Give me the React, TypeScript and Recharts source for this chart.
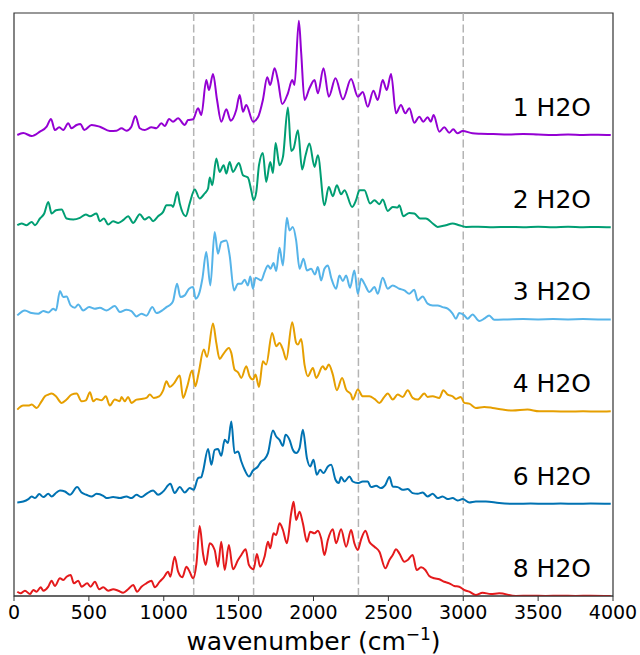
import React from "react";
import {
  LineChart,
  Line,
  XAxis,
  YAxis,
  ReferenceLine,
  ReferenceArea,
  ReferenceDot,
} from "recharts";

type Pt = [number, number];

// spectra: [wavenumber, intensity above own baseline]
const h2o1: Pt[] = [
  [22, 0], [62, 2], [118, -1], [173, 3.3], [218, 8.3], [247, 16], [273, 5], [302, 7.7], [329, 5],
  [362, 11.7], [384, 6.7], [418, 10], [444, 11], [469, 5], [518, 10], [573, 8.3], [640, 4],
  [684, 4.3], [718, 6.7], [751, 4.3], [784, 8.3], [811, 19], [840, 6.7], [873, 5], [918, 7.7],
  [951, 6.7], [984, 11.7], [1007, 9], [1036, 16], [1062, 13.3], [1096, 16.7], [1140, 10],
  [1162, 15], [1196, 15.7], [1229, 26.7], [1251, 20], [1284, 55], [1302, 45], [1329, 61],
  [1356, 35], [1384, 13.3], [1418, 25.7], [1447, 14.3], [1484, 25], [1507, 40], [1529, 23.3],
  [1551, 30], [1596, 13.3], [1629, 17.7], [1662, 35], [1691, 57.7], [1711, 50], [1740, 66.7],
  [1762, 55], [1791, 31], [1829, 41.7], [1858, 55], [1873, 50], [1902, 114.3], [1918, 81.7],
  [1940, 35], [1973, 46.7], [2007, 55], [2029, 41.7], [2067, 66.7], [2102, 38.3], [2147, 56.7],
  [2196, 35.7], [2251, 56], [2296, 38.3], [2329, 43], [2362, 28.3], [2400, 44.3], [2429, 35],
  [2462, 55], [2489, 45], [2518, 61], [2551, 21.7], [2584, 30], [2613, 21.7], [2640, 26.7],
  [2673, 12.3], [2707, 18.3], [2733, 13.3], [2762, 17.7], [2784, 13.3], [2802, 20], [2840, 3.3],
  [2873, 7.7], [2907, 2.3], [2933, 5.7], [2962, 1.7], [2996, 4], [3062, 1.7], [3118, 1.3],
  [3200, 1], [3300, 0.5], [3400, 1], [3500, 0.5], [3600, 0], [3700, 0.5], [3800, 0], [3900, 0.3],
  [3985, 0],
];

const h2o2: Pt[] = [
  [22, 2], [51, 3.7], [84, 2], [118, 5.3], [140, 2], [173, 8.7], [202, 13.7], [229, 25.3],
  [251, 13.7], [280, 17], [318, 17.7], [351, 8.7], [396, 7.7], [440, 9.3], [480, 12.7], [507, 11],
  [551, 13.7], [573, 6], [600, 8.7], [629, 2.7], [662, 6], [696, 4.3], [729, 7], [762, 11],
  [796, 4.3], [840, 13], [873, 7.7], [902, 10.3], [929, 6], [962, 11], [996, 15.3], [1018, 22],
  [1051, 22], [1062, 20.3], [1091, 35.3], [1107, 23.7], [1147, 11], [1173, 23.7], [1207, 37.7],
  [1240, 28.7], [1273, 33.7], [1296, 38.7], [1307, 49.7], [1324, 42], [1351, 68.7], [1373, 55.3],
  [1400, 62], [1418, 53.7], [1440, 65.3], [1462, 55.3], [1502, 64.3], [1529, 52], [1562, 49.7],
  [1584, 37], [1600, 27], [1618, 35.3], [1636, 62], [1662, 74.3], [1684, 45.3], [1711, 65.3],
  [1729, 54.3], [1747, 84.3], [1773, 62], [1796, 70.3], [1829, 119.7], [1851, 76.3], [1867, 78.7],
  [1896, 97], [1924, 57.7], [1947, 72], [1973, 83.7], [2007, 60.3], [2029, 72], [2073, 22],
  [2102, 40.3], [2129, 31], [2156, 42], [2184, 33], [2207, 37], [2258, 20.3], [2284, 27],
  [2307, 37], [2340, 37], [2378, 23.7], [2407, 27], [2440, 23], [2462, 27.7], [2496, 16.3],
  [2529, 20.3], [2562, 19.7], [2573, 22], [2600, 11], [2640, 14.3], [2673, 13.7], [2711, 8.7],
  [2751, 8.7], [2796, 3.7], [2829, 0.3], [2884, 2], [2929, 3.7], [2973, 2], [3018, 0.3],
  [3100, 0.5], [3200, 0], [3300, 0.3], [3400, 0], [3500, 0.5], [3600, 0], [3700, 0.5],
  [3800, 0], [3900, 0.3], [3985, 0],
];

const h2o3: Pt[] = [
  [22, 4], [73, 9], [118, 6.3], [162, 5.7], [196, 8.3], [229, 7], [262, 10.7], [280, 9],
  [307, 28.3], [329, 22.3], [351, 23], [378, 14], [407, 11.7], [429, 15], [462, 9], [502, 12.3],
  [540, 10.7], [573, 11.7], [618, 9], [673, 13.3], [707, 7.3], [751, 9.7], [784, 8.3], [818, 3],
  [851, 5.7], [884, 3.7], [924, 12.3], [951, 6.3], [996, 9.7], [1018, 12.3], [1051, 15.7],
  [1062, 18.3], [1089, 35.7], [1111, 22.3], [1140, 24], [1169, 30.7], [1196, 32.3], [1213, 20.7],
  [1236, 25.7], [1258, 40.7], [1284, 67.3], [1311, 34], [1340, 87.3], [1362, 65.7], [1384, 77.3],
  [1418, 79], [1440, 64], [1469, 29], [1496, 35.7], [1518, 35.7], [1540, 39.7], [1562, 34],
  [1578, 43], [1596, 30.7], [1613, 41.7], [1651, 39], [1673, 47.3], [1696, 54], [1713, 50.7],
  [1733, 56.3], [1751, 48.3], [1773, 71.7], [1796, 54], [1822, 101.7], [1840, 89], [1862, 92.3],
  [1884, 79], [1907, 50.7], [1933, 60.7], [1956, 49], [1984, 50.7], [2010, 45], [2029, 52.3],
  [2051, 39], [2073, 50.7], [2096, 54], [2118, 41.7], [2151, 30.7], [2173, 44], [2196, 38.3],
  [2218, 44], [2244, 31.7], [2273, 49], [2296, 25.7], [2318, 40.7], [2340, 35.7], [2373, 27.3],
  [2407, 32.3], [2429, 25.7], [2462, 41.7], [2496, 30.7], [2529, 34], [2573, 30.7], [2607, 29],
  [2640, 25.7], [2673, 29.7], [2696, 19], [2729, 23], [2762, 15.7], [2796, 14], [2829, 14],
  [2862, 12.3], [2896, 10.7], [2929, 5.7], [2951, 0.7], [2973, 6.3], [3007, 4], [3029, 0.7],
  [3062, 5], [3107, -1.7], [3140, 0.7], [3173, 4], [3207, -0.3], [3300, 0], [3400, 0.3],
  [3500, 0], [3600, 0.3], [3700, 0], [3800, 0.3], [3900, 0], [3985, 0],
];

const h2o4: Pt[] = [
  [22, 2], [62, 6], [96, 6], [118, 7], [151, 3.7], [184, 10.3], [207, 15.3], [229, 17], [251, 18],
  [280, 15.3], [318, 8.7], [351, 12], [384, 17], [418, 18], [451, 10.3], [480, 11.3], [507, 19.3],
  [529, 10.3], [551, 12.7], [584, 11.3], [613, 15.3], [640, 6], [673, 12], [707, 10.3],
  [718, 14.7], [740, 10.3], [762, 14.7], [784, 8.7], [818, 12], [851, 12.7], [884, 13.7],
  [907, 17], [933, 13.7], [969, 15.3], [996, 21.3], [1018, 30.3], [1040, 24.7], [1067, 28],
  [1107, 36], [1129, 13.7], [1156, 24.7], [1189, 41], [1211, 25.3], [1233, 38.7], [1267, 62],
  [1289, 54.7], [1329, 88], [1351, 68.7], [1373, 52.7], [1400, 58], [1435, 63.7], [1451, 58.7],
  [1473, 42], [1496, 39.3], [1518, 33.7], [1551, 45.3], [1573, 35.3], [1596, 32], [1613, 37],
  [1636, 24.7], [1662, 50.3], [1684, 47], [1724, 78.7], [1751, 65.3], [1773, 68.7], [1796, 62],
  [1818, 52], [1858, 89.3], [1884, 68.7], [1896, 67], [1918, 72.7], [1940, 47], [1962, 35.3],
  [1996, 43.7], [2018, 33.7], [2062, 45.3], [2080, 42], [2102, 47], [2129, 37], [2156, 21.3],
  [2191, 33.7], [2218, 22], [2251, 17], [2262, 12], [2296, 22], [2329, 15.3], [2373, 15.3],
  [2407, 12.7], [2440, 8.7], [2473, 14.7], [2496, 18], [2529, 12], [2562, 17], [2596, 14.7],
  [2629, 21.3], [2662, 13.7], [2696, 12], [2740, 18], [2762, 14.7], [2796, 15.3], [2840, 13.7],
  [2867, 21.3], [2896, 17], [2929, 15.3], [2951, 12.7], [2984, 14.7], [3007, 8.7], [3040, 8],
  [3084, 3.7], [3140, 4.7], [3196, 3.7], [3262, 2], [3329, 1], [3429, 2], [3507, 0.3],
  [3600, 0.3], [3700, 0], [3800, 0.3], [3900, 0], [3985, 0.3],
];

const h2o6: Pt[] = [
  [22, 1.3], [62, 2.3], [96, 4.7], [118, 7.3], [140, 5.7], [169, 9.7], [196, 6.7], [229, 10],
  [251, 7.3], [284, 11.3], [307, 13.3], [340, 12.3], [373, 9], [422, 16.7], [451, 11.3], [484, 9],
  [518, 7.3], [551, 10], [596, 8], [618, 5.7], [662, 6.7], [707, 5.7], [751, 7.3], [784, 5.7],
  [818, 9], [851, 6.7], [884, 10], [929, 13.3], [962, 9], [996, 12.3], [1044, 20], [1073, 10.7],
  [1107, 16.7], [1140, 11.3], [1173, 15.7], [1200, 14], [1229, 25.7], [1251, 26.7], [1262, 32.3],
  [1296, 54.7], [1318, 39], [1340, 54], [1362, 54.7], [1384, 48], [1407, 64], [1429, 60.7],
  [1451, 82.3], [1473, 50.7], [1496, 52.3], [1518, 42.3], [1540, 34], [1569, 27.3], [1596, 33.3],
  [1629, 37.3], [1651, 42.3], [1673, 44.7], [1696, 50.7], [1729, 73.3], [1751, 67.3], [1773, 64],
  [1796, 58], [1813, 69], [1840, 64], [1862, 54], [1884, 50.7], [1907, 55.7], [1929, 74],
  [1956, 45.7], [1978, 37.3], [2000, 44], [2022, 29], [2044, 34], [2067, 30.7], [2096, 37.3],
  [2118, 39], [2147, 24], [2169, 20.7], [2184, 26.7], [2207, 22.3], [2240, 27.3], [2262, 22.3],
  [2296, 20.7], [2329, 22.3], [2362, 22.3], [2384, 16.7], [2418, 18], [2451, 15.7], [2480, 19],
  [2507, 26.7], [2529, 17.3], [2562, 16.7], [2596, 14], [2629, 14.7], [2662, 10.7], [2696, 10],
  [2729, 11.3], [2762, 7.3], [2796, 10], [2829, 5.7], [2862, 7.3], [2896, 4.7], [2929, 5.7],
  [2962, 3.3], [2996, 4.7], [3040, 1.3], [3084, 2.3], [3151, 2.3], [3240, 0.7], [3351, 0],
  [3450, 0.3], [3550, 0], [3650, 0.3], [3750, 0], [3850, 0.3], [3985, 0],
];

const h2o8: Pt[] = [
  [22, 4.3], [44, 2.7], [73, 5.3], [107, 2], [129, 6], [151, 4.3], [178, 8.7], [196, 5.3],
  [229, 9.3], [251, 15.3], [273, 10], [307, 17.7], [329, 16], [351, 19.3], [378, 21], [400, 12.7],
  [429, 15.3], [451, 9.3], [489, 12.7], [511, 9.3], [540, 14.3], [569, 6.7], [596, 8.7],
  [629, 5.3], [662, 6.7], [696, 5.3], [729, 3.3], [762, 6.7], [796, 11], [822, 4.3], [851, 9.3],
  [884, 12.7], [918, 15.3], [940, 8.7], [973, 14.3], [1000, 18.7], [1029, 24.3], [1044, 19.3],
  [1073, 39.3], [1096, 24.3], [1124, 18.7], [1151, 29.3], [1173, 24.3], [1196, 17.7], [1218, 32],
  [1240, 70], [1262, 42.7], [1280, 31], [1307, 52.7], [1340, 46], [1362, 29.3], [1384, 54.3],
  [1407, 26], [1435, 51], [1462, 26.7], [1496, 36], [1518, 41], [1547, 46.7], [1569, 31],
  [1600, 26.7], [1622, 42], [1644, 29.3], [1673, 39.3], [1696, 54.3], [1711, 47.7], [1733, 62.7],
  [1751, 61], [1773, 72.7], [1796, 66], [1822, 52.7], [1851, 82.7], [1867, 94.3], [1884, 76],
  [1907, 84.3], [1929, 72.7], [1956, 54.3], [1978, 64.3], [2007, 62.7], [2029, 65.3], [2051, 57.7],
  [2073, 41], [2096, 56], [2129, 66.7], [2151, 52.7], [2184, 66.7], [2218, 49.3], [2251, 66],
  [2273, 52.7], [2296, 46], [2318, 56.7], [2347, 65.3], [2373, 54.3], [2407, 49.3], [2440, 44.3],
  [2480, 27.7], [2507, 36], [2529, 41], [2551, 46.7], [2573, 42.7], [2607, 34.3], [2629, 36],
  [2662, 41], [2689, 26], [2718, 28.7], [2747, 26], [2773, 20], [2807, 17.7], [2840, 16.7],
  [2873, 14.3], [2907, 12.7], [2940, 10], [2973, 9.3], [3007, 6], [3040, 4.3], [3084, 1],
  [3129, 3.3], [3184, 2], [3240, 2.7], [3351, 0], [3450, 0.3], [3550, 0], [3650, 0.3],
  [3750, 0], [3850, 0.3], [3985, 0],
];

const SERIES = [h2o1, h2o2, h2o3, h2o4, h2o6, h2o8];
const SERIES_LABELS = ["1 H2O", "2 H2O", "3 H2O", "4 H2O", "6 H2O", "8 H2O"];
const SERIES_OFFSETS = [461, 368.8, 276.6, 184.4, 92.2, 0];
const SERIES_COLORS = ["#9400d3", "#009e73", "#56b4e9", "#e69f00", "#0072b2", "#e41a1c"];
const X_TICKS = [0, 500, 1000, 1500, 2000, 2500, 3000, 3500, 4000];
const MARKERS = [1200, 1600, 2300, 3000];
const LABEL_X = 3853;
const LABEL_LIFT = 28;
const Y_MAX = 583;

const FONT = "DejaVu Sans";

function AxisTitle(props: any) {
  const vb = props.viewBox || {};
  const cx = vb.x + vb.width / 2;
  const y = vb.y + 54;
  return (
    <text x={cx} y={y} textAnchor="middle" fontFamily={FONT} fontSize={25} fill="#000">
      wavenumber (cm
      <tspan fontSize={17} dy={-10}>
        −1
      </tspan>
      <tspan dy={10}>)</tspan>
    </text>
  );
}

export default function App() {
  return (
    <div style={{ position: "absolute", left: 0, top: 0 }}>
      <LineChart
        width={640}
        height={655}
        margin={{ top: 13, right: 27, bottom: 0, left: 14 }}
      >
        <XAxis
          type="number"
          dataKey="w"
          domain={[0, 4000]}
          ticks={X_TICKS}
          allowDataOverflow
          height={59}
          tickSize={5}
          tickMargin={5}
          tick={{ fill: "#000", fontSize: 19, fontFamily: FONT }}
          tickLine={{ stroke: "#333" }}
          axisLine={{ stroke: "#333", strokeWidth: 1.2 }}
          label={<AxisTitle />}
        />
        <YAxis type="number" hide domain={[0, Y_MAX]} allowDataOverflow />
        <ReferenceArea
          x1={0}
          x2={4000}
          y1={0}
          y2={Y_MAX}
          fill="none"
          stroke="#333"
          strokeWidth={1.2}
          fillOpacity={0}
        />
        {MARKERS.map((m) => (
          <ReferenceLine
            key={m}
            x={m}
            stroke="#b4b4b4"
            strokeWidth={1.5}
            strokeDasharray="8 3.5"
          />
        ))}
        {SERIES.map((s, i) => (
          <Line
            key={SERIES_LABELS[i]}
            data={s.map(([w, v]) => ({ w, y: v + SERIES_OFFSETS[i] }))}
            dataKey="y"
            type="monotone"
            stroke={SERIES_COLORS[i]}
            strokeWidth={2}
            strokeLinejoin="round"
            dot={false}
            isAnimationActive={false}
          />
        ))}
        {SERIES_LABELS.map((lab, i) => (
          <ReferenceDot
            key={lab}
            x={LABEL_X}
            y={SERIES_OFFSETS[i] + LABEL_LIFT}
            r={0}
            fill="none"
            stroke="none"
            label={{
              value: lab,
              position: "left",
              offset: 0,
              fill: "#000",
              fontSize: 25,
              fontFamily: FONT,
            }}
          />
        ))}
      </LineChart>
    </div>
  );
}
